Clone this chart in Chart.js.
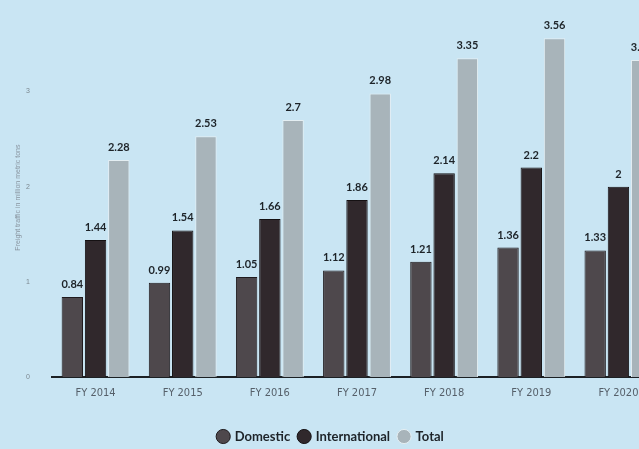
<!DOCTYPE html>
<html>
<head>
<meta charset="utf-8">
<script src="https://cdn.jsdelivr.net/npm/chart.js@4/dist/chart.umd.min.js"></script>
<style>
  html, body { margin: 0; padding: 0; background: #c9e5f3; overflow: hidden; }
  #wrap { width: 662px; height: 449px; }
</style>
</head>
<body>
<div id="wrap"><canvas id="chart" width="662" height="449"></canvas></div>
<script>
// data
const years = ['FY 2014', 'FY 2015', 'FY 2016', 'FY 2017', 'FY 2018', 'FY 2019', 'FY 2020'];
const domestic = [0.84, 0.99, 1.05, 1.12, 1.21, 1.36, 1.33];
const international = [1.44, 1.54, 1.66, 1.86, 2.14, 2.2, 2];
const total = [2.28, 2.53, 2.7, 2.98, 3.35, 3.56, 3.33];

// draws the value over each bar
const valueLabels = {
    id: 'valueLabels',
    afterDatasetsDraw(chart) {
        const ctx = chart.ctx;
        ctx.save();
        ctx.font = 'bold 11px Lato';
        ctx.fillStyle = '#1d2328';
        ctx.textAlign = 'center';
        ctx.textBaseline = 'bottom';
        chart.data.datasets.forEach((ds, i) => {
            chart.getDatasetMeta(i).data.forEach((bar, j) => {
                ctx.fillText(String(ds.data[j]), bar.x, bar.y - 7);
            });
        });
        ctx.restore();
    }
};

new Chart(document.getElementById('chart').getContext('2d'), {
    type: 'bar',
    data: {
        labels: years,
        datasets: [
            { label: 'Domestic', data: domestic, backgroundColor: '#4e484c', borderColor: '#1f1a1d', borderWidth: 1 },
            { label: 'International', data: international, backgroundColor: '#30282c', borderColor: '#151113', borderWidth: 1 },
            { label: 'Total', data: total, backgroundColor: '#a8b4ba', borderColor: '#e4eef2', borderWidth: 1 }
        ]
    },
    options: {
        responsive: false,
        animation: false,
        layout: { padding: { top: 0, left: 0, right: 0, bottom: -4 } },
        datasets: { bar: { categoryPercentage: 0.8, barPercentage: 0.92 } },
        scales: {
            x: {
                grid: { display: false, drawTicks: false },
                border: { display: true, color: '#1b2024', width: 2 },
                ticks: { color: '#56606a', font: { family: 'DejaVu Sans Condensed', size: 11 }, padding: 10 },
                afterFit: (s) => { s.height = 44; }
            },
            y: {
                min: 0, max: 3.77,
                grid: { display: false },
                border: { display: false },
                ticks: { stepSize: 1, color: '#7c8890', font: { size: 7 }, padding: 14,
                    callback: (v) => (v <= 3 ? v : '') },
                title: { display: true, text: 'Freight traffic in million metric tons', color: '#8995a0',
                    font: { size: 7 }, padding: { top: 14, bottom: 2 } },
                afterFit: (s) => { s.width = 52; }
            }
        },
        plugins: {
            legend: {
                position: 'bottom',
                labels: { usePointStyle: true, pointStyle: 'circle', boxWidth: 10, boxHeight: 10, padding: 9,
                    color: '#1d2328', font: { family: 'Lato', weight: 'bold', size: 13 } }
            },
            tooltip: { enabled: false }
        }
    },
    plugins: [valueLabels]
});
</script>
</body>
</html>
